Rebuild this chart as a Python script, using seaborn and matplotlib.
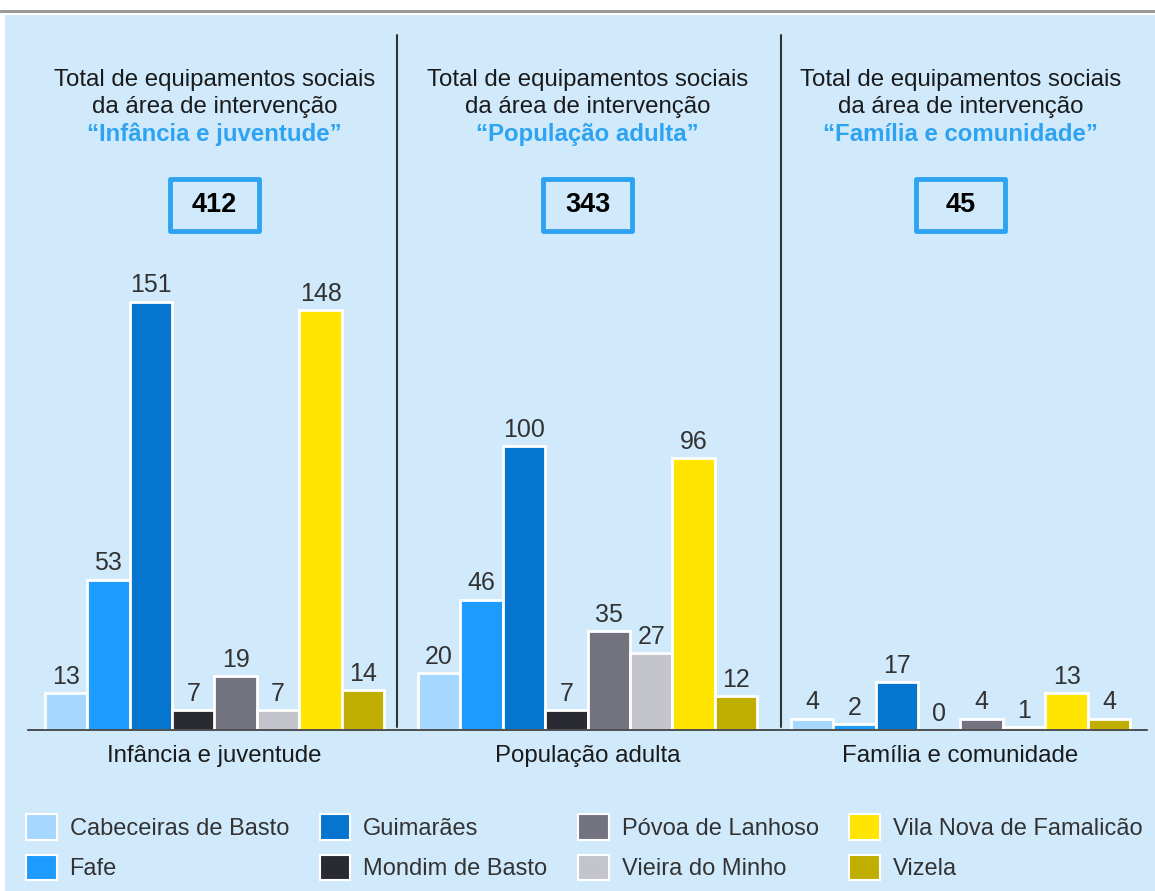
import numpy as np
import pandas as pd
import matplotlib
matplotlib.use('Agg')
import matplotlib.pyplot as plt
from matplotlib.patches import Rectangle, Patch
from matplotlib.lines import Line2D
import seaborn as sns

# --- Data ---
areas = ['Infância e juventude', 'População adulta', 'Família e comunidade']
area_titles = ['“Infância e juventude”', '“População adulta”', '“Família e comunidade”']
totals = [412, 343, 45]
municipios = ['Cabeceiras de Basto', 'Fafe', 'Guimarães', 'Mondim de Basto',
              'Póvoa de Lanhoso', 'Vieira do Minho', 'Vila Nova de Famalicão', 'Vizela']
infancia = [13, 53, 151, 7, 19, 7, 148, 14]
adulta = [20, 46, 100, 7, 35, 27, 96, 12]
familia = [4, 2, 17, 0, 4, 1, 13, 4]
colors = ['#A6D8FF', '#1E9BFF', '#0575D0', '#2A2A33',
          '#737380', '#C4C4CC', '#FFE500', '#C0AE00']

BG = '#D0EAFC'
BLUE = '#2EA3F2'
TXT = '#1a1a1a'

rows = []
for area, vals in zip(areas, [infancia, adulta, familia]):
    for m, v in zip(municipios, vals):
        rows.append({'area': area, 'municipio': m, 'valor': v})
df = pd.DataFrame(rows)

sns.set_style('white')
plt.rcParams['font.family'] = ['Liberation Sans', 'DejaVu Sans']

fig = plt.figure(figsize=(11.55, 8.91), dpi=100, facecolor='white')
# light blue panel and top grey rule (behind the axes)
fig.patches.append(Rectangle((5 / 1155, 0), 1, 1 - 15 / 891, transform=fig.transFigure,
                             facecolor=BG, edgecolor='none', zorder=-10))
fig.lines.append(Line2D([0, 1], [1 - 11 / 891] * 2, transform=fig.transFigure,
                        color='#9a9a9a', lw=2.2, zorder=-10))

ax = fig.add_axes([28 / 1155, 1 - 730 / 891, (1147 - 28) / 1155, 695 / 891])
ax.set_facecolor('none')
ax.set_zorder(1)

sns.barplot(data=df, x='area', y='valor', hue='municipio', order=areas,
            hue_order=municipios, palette=colors, width=0.91, saturation=1,
            edgecolor='white', linewidth=2, ax=ax, legend=False)

ax.set_xlim(-0.5, 2.5)
ax.set_ylim(0, 245)
for c in ax.containers:
    ax.bar_label(c, padding=3, fontsize=18, color='#333333')

for s in ['top', 'right', 'left']:
    ax.spines[s].set_visible(False)
ax.spines['bottom'].set_color('#333333')
ax.spines['bottom'].set_linewidth(1.2)
ax.set_yticks([])
ax.set_xlabel('')
ax.set_ylabel('')
ax.tick_params(axis='x', length=0, pad=11, labelsize=17.3, labelcolor=TXT)

trans = ax.get_xaxis_transform()
for xd in [0.49, 1.52]:
    ax.plot([xd, xd], [0.005, 1.0], transform=trans, color='#333333', lw=1.5, clip_on=False)

for i in range(3):
    ax.text(i, 0.935, 'Total de equipamentos sociais', transform=trans,
            ha='center', va='center', fontsize=17.3, color=TXT)
    ax.text(i, 0.897, 'da área de intervenção', transform=trans,
            ha='center', va='center', fontsize=17.3, color=TXT)
    ax.text(i, 0.857, area_titles[i], transform=trans, ha='center', va='center',
            fontsize=17.3, color=BLUE, fontweight='bold')
    bw, bh = 0.241, 0.075
    ax.add_patch(Rectangle((i - bw / 2, 0.755 - bh / 2), bw, bh, transform=trans,
                           facecolor=BG, edgecolor=BLUE, lw=3.5, joinstyle='round',
                           clip_on=False))
    ax.text(i, 0.755, str(totals[i]), transform=trans, ha='center', va='center',
            fontsize=19.5, fontweight='bold', color='black')

handles = [Patch(facecolor=c, edgecolor='white', lw=1.5) for c in colors]
fig.legend(handles, municipios, ncol=4, loc='upper left',
           bbox_to_anchor=(0.004, 1 - 793 / 891), frameon=False, fontsize=17,
           handlelength=1.3, handleheight=1.3, handletextpad=0.55,
           columnspacing=1.3, labelspacing=0.62, labelcolor='#333333')

fig.savefig('out.png', dpi=100, facecolor='white')
